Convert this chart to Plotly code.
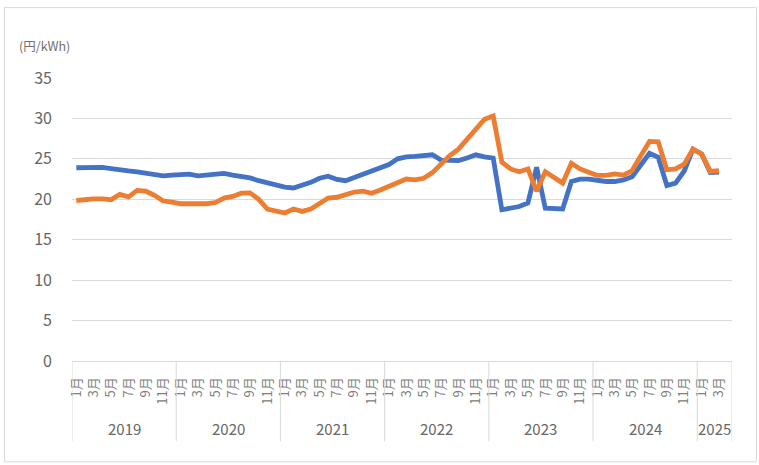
import plotly.graph_objects as go

# ---- data ----
years = [2019, 2020, 2021, 2022, 2023, 2024, 2025]
months_per_year = [12, 12, 12, 12, 12, 12, 4]   # 2025 category slots: Jan-Apr
series_blue = [
    23.9, 23.9, 24.0, 23.95, 23.8, 23.6, 23.5, 23.4, 23.2, 23.0, 22.9, 23.0,
    23.1, 23.1, 22.9, 23.0, 23.1, 23.2, 23.0, 22.85, 22.65, 22.3, 22.0, 21.7,
    21.5, 21.4, 21.7, 22.1, 22.6, 22.85, 22.45, 22.3, 22.7, 23.1, 23.5, 23.9,
    24.3, 25.0, 25.25, 25.3, 25.45, 25.5, 24.85, 24.8, 24.8, 25.1, 25.5, 25.25,
    25.1, 18.7, 18.85, 19.1, 19.55, 23.95, 18.9, 18.8, 18.8, 22.2, 22.5, 22.5,
    22.3, 22.2, 22.2, 22.4, 22.8, 24.2, 25.7, 25.2, 21.7, 22.0, 23.5, 26.2,
    25.6, 23.3, 23.35,
]
series_orange = [
    19.85, 20.0, 20.05, 20.05, 19.95, 20.6, 20.3, 21.1, 21.0, 20.5, 19.8, 19.65,
    19.45, 19.45, 19.4, 19.45, 19.6, 20.15, 20.35, 20.75, 20.8, 20.0, 18.8, 18.5,
    18.3, 18.8, 18.5, 18.8, 19.45, 20.15, 20.25, 20.65, 20.9, 21.0, 20.75, 21.15,
    21.6, 22.1, 22.5, 22.4, 22.6, 23.3, 24.35, 25.4, 26.2, 27.4, 28.7, 29.9,
    30.3, 24.6, 23.75, 23.4, 23.75, 21.0, 23.4, 22.7, 22.0, 24.45, 23.75, 23.35,
    22.95, 22.95, 23.15, 23.0, 23.55, 25.4, 27.15, 27.1, 23.65, 23.75, 24.35, 26.2,
    25.6, 23.45, 23.55,
]
y_ticks = [0, 5, 10, 15, 20, 25, 30, 35]
unit_label = "(円/kWh)"

# ---- category positions ----
cat_year, cat_month = [], []
for yr, n in zip(years, months_per_year):
    for m in range(1, n + 1):
        cat_year.append(yr)
        cat_month.append(m)
n_cat = len(cat_year)
xs = list(range(n_cat))

tickvals = [i for i in xs if cat_month[i] % 2 == 1]
ticktext = [f"{cat_month[i]}月" for i in tickvals]

FONT = "Noto Sans CJK JP"
W, H = 759, 465
ML, MR, MT, MB = 72, 27, 78, 103.5
pw, ph = W - ML - MR, H - MT - MB

def px_to_paper_y(py):
    return (H - MB - py) / ph

def px_to_paper_x(px):
    return (px - ML) / pw

fig = go.Figure()
fig.add_trace(go.Scatter(x=xs[:len(series_blue)], y=series_blue, mode="lines",
                         line=dict(color="#4472C4", width=4.8), showlegend=False))
fig.add_trace(go.Scatter(x=xs[:len(series_orange)], y=series_orange, mode="lines",
                         line=dict(color="#ED7D31", width=4.8), showlegend=False))

shapes = []
# year separators
bounds = [-0.5]
acc = -0.5
for n in months_per_year:
    acc += n
    bounds.append(acc)
for b in bounds:
    shapes.append(dict(type="line", xref="x", yref="paper", x0=b, x1=b,
                       y0=0, y1=px_to_paper_y(442), line=dict(color="#D9D9D9", width=1)))
# outer border
shapes.append(dict(type="rect", xref="paper", yref="paper",
                   x0=px_to_paper_x(4.5), x1=px_to_paper_x(756.5),
                   y0=px_to_paper_y(462.5), y1=px_to_paper_y(7.5),
                   line=dict(color="#D9D9D9", width=1), fillcolor="rgba(0,0,0,0)", layer="below"))

annotations = []
start = 0
for yr, n in zip(years, months_per_year):
    center = start + (n - 1) / 2
    annotations.append(dict(x=center, y=px_to_paper_y(429), xref="x", yref="paper",
                            text=str(yr), showarrow=False,
                            font=dict(family=FONT, size=15, color="#666666"),
                            xanchor="center", yanchor="middle"))
    start += n
annotations.append(dict(x=px_to_paper_x(17), y=px_to_paper_y(45), xref="paper", yref="paper",
                        text=unit_label, showarrow=False,
                        font=dict(family=FONT, size=12.5, color="#707070"),
                        xanchor="left", yanchor="middle"))

fig.update_layout(
    width=W, height=H,
    margin=dict(l=ML, r=MR, t=MT, b=MB),
    paper_bgcolor="white", plot_bgcolor="white",
    shapes=shapes, annotations=annotations,
    xaxis=dict(range=[-0.5, n_cat - 0.5], tickmode="array", tickvals=tickvals,
               ticktext=ticktext, tickangle=-90, showgrid=False, zeroline=False,
               showline=True, linecolor="#D9D9D9", linewidth=1, ticks="",
               ticklabelstandoff=10,
               tickfont=dict(family=FONT, size=13, color="#808080")),
    yaxis=dict(range=[0, 35], tickmode="array", tickvals=y_ticks,
               showgrid=True, gridcolor="#D9D9D9", gridwidth=1, zeroline=False,
               showline=False, ticks="", ticklabelstandoff=19,
               tickfont=dict(family=FONT, size=16, color="#666666")),
)

fig.write_html("out.html")
